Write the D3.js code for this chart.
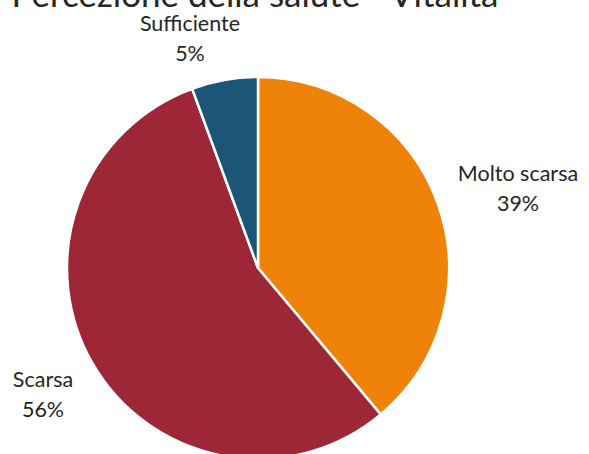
<!DOCTYPE html>
<html>
<head>
<meta charset="utf-8">
<script src="https://cdn.jsdelivr.net/npm/d3@7"></script>
<style>
  html, body { margin: 0; padding: 0; background: #fff; }
  svg { display: block; }
  text { font-family: Lato, "Open Sans", sans-serif; fill: #262626; }
</style>
</head>
<body>
<svg id="chart" width="589" height="454"></svg>
<script>
const title = "Percezione della salute - Vitalità";
const categories = ["Molto scarsa", "Scarsa", "Sufficiente"];
const values = [38.9, 55.5, 5.6];
const percentLabels = ["39%", "56%", "5%"];
const colors = ["#EF8209", "#9E2737", "#1B5679"];

const svg = d3.select("#chart");
const cx = 258, cy = 268, r = 191;

svg.append("text")
  .attr("x", 255).attr("y", 7)
  .attr("text-anchor", "middle")
  .style("font-size", "35px")
  .text(title);

const pie = d3.pie().sort(null).value(d => d)
  .startAngle(0).endAngle(2 * Math.PI);
const arcs = pie(values);
const arc = d3.arc().innerRadius(0).outerRadius(r);

const g = svg.append("g").attr("transform", `translate(${cx},${cy})`);
g.selectAll("path").data(arcs).join("path")
  .attr("d", arc)
  .attr("fill", (d, i) => colors[i])
  .attr("stroke", "#fff")
  .attr("stroke-width", 2.5)
  .attr("stroke-linejoin", "round");

const labelPos = [
  { x: 518, y: 181 },
  { x: 43, y: 387 },
  { x: 190, y: 31 }
];
const lbl = svg.append("g");
arcs.forEach((a, i) => {
  const t = lbl.append("text")
    .attr("x", labelPos[i].x).attr("y", labelPos[i].y)
    .attr("text-anchor", "middle")
    .style("font-size", "21.5px");
  t.append("tspan").attr("x", labelPos[i].x).text(categories[i]);
  t.append("tspan").attr("x", labelPos[i].x).attr("dy", 30).text(percentLabels[i]);
});
</script>
</body>
</html>
